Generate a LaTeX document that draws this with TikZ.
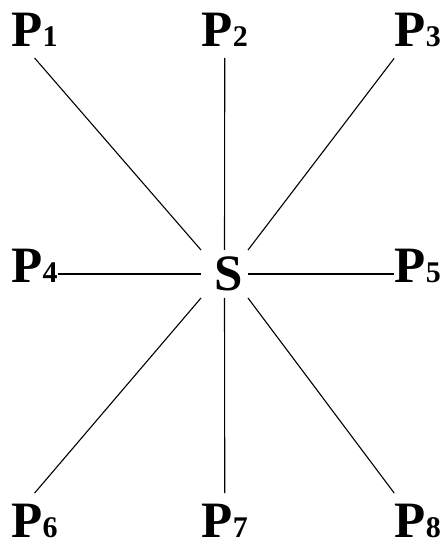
\documentclass[tikz,border=0pt]{standalone}
\usepackage{fontspec}
\setmainfont{Liberation Serif}
\newcommand{\psub}[1]{{\fontsize{30}{30}\selectfont #1}}
\begin{document}
\begin{tikzpicture}[x=1pt,y=1pt,
  lbl/.style={inner xsep=0.5pt, inner ysep=5.5pt, outer ysep=5.5pt, outer xsep=0pt,
    anchor=base west, font=\bfseries\fontsize{51}{51}\selectfont},
  hub/.style={minimum width=47pt, minimum height=48pt, inner sep=0pt, outer sep=0pt,
    font=\bfseries\fontsize{51}{51}\selectfont},
  link/.style={line width=1.1pt}]
\useasboundingbox (0,0) rectangle (443,544);
\node[lbl] (P1) at (11,497) {P\psub{1}};
\node[lbl] (P2) at (201.2,497) {P\psub{2}};
\node[lbl] (P3) at (394.2,497) {P\psub{3}};
\node[lbl] (P4) at (11,261) {P\psub{4}};
\node[lbl] (P5) at (394.2,261) {P\psub{5}};
\node[lbl] (P6) at (11,6.5) {P\psub{6}};
\node[lbl] (P7) at (201.2,6.5) {P\psub{7}};
\node[lbl] (P8) at (394.2,6.5) {P\psub{8}};
\node[hub] (S) at (224.5,270) {\hspace*{8pt}S};
\draw[link] (S.north west) -- (P1.south);
\draw[link] (S.north) -- (P2.south);
\draw[link] (S.north east) -- (P3.south west);
\draw[link] (S.west) -- (S.west -| P4.east);
\draw[link] (S.east) -- (S.east -| P5.west);
\draw[link] (S.south west) -- (P6.north);
\draw[link] (S.south) -- (P7.north);
\draw[link] (S.south east) -- (P8.north west);
\end{tikzpicture}
\end{document}
